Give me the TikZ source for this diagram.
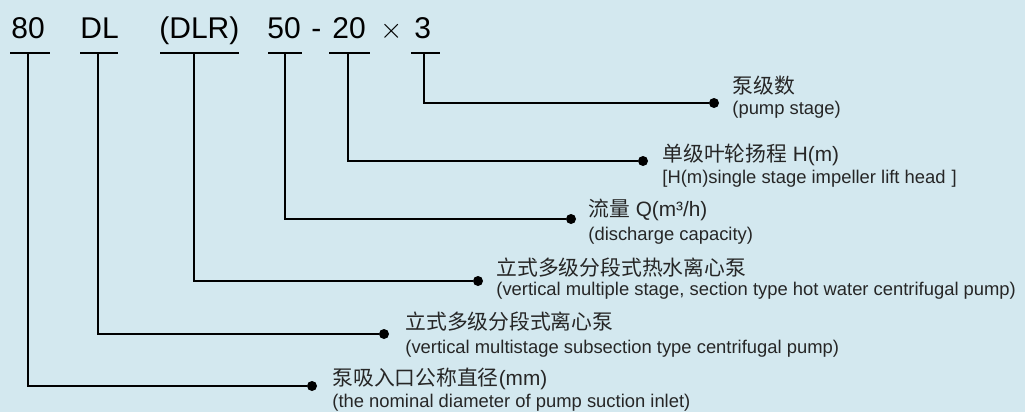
\documentclass[tikz,border=0pt]{standalone}
\usepackage{fontspec}
\setmainfont{Liberation Sans}
\newfontfamily\cjk{Noto Sans CJK SC}
\usetikzlibrary{positioning}
\definecolor{panel}{HTML}{D3E8EF}
\definecolor{ink}{HTML}{262626}
\tikzset{
x=0.5pt, y=-0.5pt, % one unit is one pixel of the picture
code/.style={font=\fontsize{15}{15}\selectfont, anchor=base west, inner sep=0pt}, % the model code
leader/.style={line width=1pt, black}, % bars and leader lines
dot/.style={circle, fill=black, inner sep=0pt, minimum size=5pt}, % end of a leader
zh/.style={font=\fontsize{10.4}{10.4}\selectfont, text=ink, anchor=base west, inner sep=0pt}, % first line
en/.style={font=\fontsize{9.2}{9.2}\selectfont, text=ink, anchor=base west, inner sep=0pt}, % second line
}
\begin{document}
\begin{tikzpicture}
\fill[panel] (0,0) rectangle (1025,412);
% model code
\node[code] (n80) at (11,39) {80};
\node[code] (nDL) at (80,39) {DL};
\node[code] (nDLR) at (159,39) {(DLR)};
\node[code] (n50) at (267,39) {50};
\node[code] (ndash) at (311,39) {-};
\node[code] (n20) at (332,39) {20};
\node[code] (ntimes) at (380,39) {$\times$};
\node[code] (n3) at (414,39) {3};
% bars under the code
\draw[leader] (10,53) -- (50,53);
\draw[leader] (80,53) -- (118,53);
\draw[leader] (160,53) -- (239,53);
\draw[leader] (268,53) -- (302,53);
\draw[leader] (329,53) -- (370,53);
\draw[leader] (411,53) -- (440,53);
\coordinate (s80) at (28,53);
\coordinate (sDL) at (98,53);
\coordinate (sDLR) at (194,53);
\coordinate (s50) at (285,53);
\coordinate (s20) at (348,53);
\coordinate (s3) at (424,53);
% dots
\node[dot] (d3) at (714,103) {};
\node[dot] (d20) at (643,161) {};
\node[dot] (d50) at (571,219) {};
\node[dot] (dDLR) at (478,281) {};
\node[dot] (dDL) at (384,334) {};
\node[dot] (d80) at (312,386) {};
% leaders
\draw[leader] (s3) |- (d3);
\draw[leader] (s20) |- (d20);
\draw[leader] (s50) |- (d50);
\draw[leader] (sDLR) |- (dDLR);
\draw[leader] (sDL) |- (dDL);
\draw[leader] (s80) |- (d80);
% labels
\node[zh] (zh3) at (732,93) {\cjk 泵级数};
\node[en] (en3) at (732,114) {(pump stage)};
\node[zh] (zh20) at (662,161) {{\cjk 单级叶轮扬程} H(m)};
\node[en] (en20) at (662,184) {[H(m)single stage impeller lift head\hspace{3pt}]};
\node[zh] (zh50) at (588,216) {{\cjk 流量} Q(m³/h)};
\node[en] (en50) at (588,240) {(discharge capacity)};
\node[zh] (zhDLR) at (496,275) {\cjk 立式多级分段式热水离心泵};
\node[en] (enDLR) at (496,295) {(vertical multiple stage, section type hot water centrifugal pump)};
\node[zh] (zhDL) at (405,329) {\cjk 立式多级分段式离心泵};
\node[en] (enDL) at (405,353) {(vertical multistage subsection type centrifugal pump)};
\node[zh] (zh80) at (332,385) {{\cjk 泵吸入口公称直径}(mm)};
\node[en] (en80) at (332,407) {(the nominal diameter of pump suction inlet)};
\end{tikzpicture}
\end{document}
